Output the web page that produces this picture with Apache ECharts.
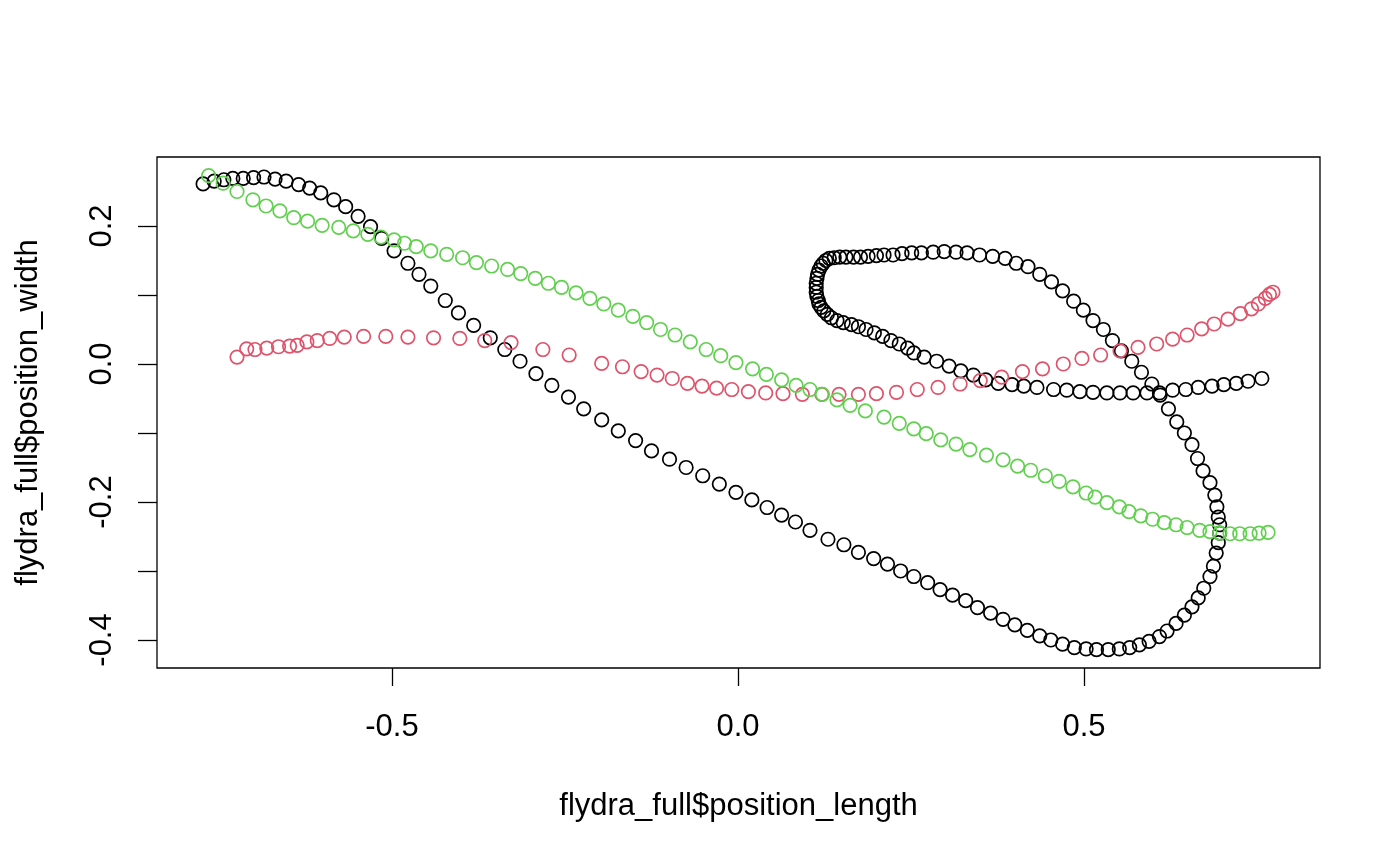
<!DOCTYPE html>
<html>
<head>
<meta charset="utf-8">
<script src="https://cdn.jsdelivr.net/npm/echarts@6/dist/echarts.min.js"></script>
<style>
html,body{margin:0;padding:0;background:#fff;}
#chart{width:1400px;height:865px;}
</style>
</head>
<body>
<div id="chart"></div>
<script>
// Axis tick values
const xTicks = [-0.5, 0.0, 0.5];
const yTicks = [-0.4, -0.3, -0.2, -0.1, 0.0, 0.1, 0.2];
const yLabels = [-0.4, -0.2, 0.0, 0.2];

// Series 1 (black)
const blackX = [-0.773,-0.757,-0.743,-0.730,-0.715,-0.700,-0.685,-0.669,-0.653,-0.635,-0.619,-0.603,-0.584,-0.567,-0.549,-0.531,-0.515,-0.497,-0.477,-0.461,-0.444,-0.423,-0.404,-0.382,-0.358,-0.337,-0.315,-0.292,-0.269,-0.245,-0.223,-0.197,-0.173,-0.148,-0.125,-0.099,-0.075,-0.051,-0.027,-0.003,0.020,0.042,0.063,0.083,0.104,0.130,0.153,0.174,0.196,0.216,0.235,0.254,0.274,0.292,0.310,0.329,0.346,0.365,0.383,0.400,0.418,0.436,0.452,0.469,0.486,0.503,0.518,0.535,0.551,0.566,0.580,0.594,0.609,0.620,0.633,0.645,0.656,0.665,0.673,0.682,0.687,0.691,0.694,0.696,0.696,0.694,0.692,0.689,0.682,0.672,0.664,0.656,0.645,0.634,0.622,0.610,0.598,0.583,0.569,0.554,0.541,0.528,0.513,0.499,0.485,0.469,0.453,0.436,0.419,0.402,0.386,0.368,0.349,0.331,0.315,0.298,0.282,0.265,0.251,0.237,0.224,0.211,0.200,0.188,0.177,0.167,0.156,0.147,0.139,0.132,0.127,0.123,0.120,0.117,0.115,0.114,0.113,0.113,0.113,0.114,0.116,0.117,0.120,0.124,0.129,0.135,0.143,0.152,0.164,0.174,0.185,0.197,0.209,0.221,0.233,0.245,0.254,0.269,0.287,0.305,0.322,0.340,0.358,0.376,0.396,0.413,0.432,0.456,0.475,0.494,0.513,0.533,0.552,0.571,0.591,0.609,0.628,0.647,0.665,0.685,0.702,0.720,0.737,0.757];
const blackY = [0.261,0.265,0.267,0.269,0.269,0.270,0.271,0.268,0.265,0.260,0.255,0.248,0.238,0.228,0.214,0.199,0.182,0.164,0.146,0.130,0.113,0.092,0.074,0.056,0.038,0.021,0.004,-0.014,-0.031,-0.048,-0.065,-0.081,-0.097,-0.111,-0.126,-0.138,-0.150,-0.162,-0.174,-0.186,-0.197,-0.208,-0.219,-0.229,-0.241,-0.254,-0.262,-0.273,-0.282,-0.290,-0.300,-0.308,-0.317,-0.327,-0.335,-0.343,-0.353,-0.361,-0.370,-0.378,-0.386,-0.394,-0.400,-0.406,-0.411,-0.413,-0.414,-0.414,-0.413,-0.411,-0.407,-0.402,-0.395,-0.387,-0.376,-0.364,-0.352,-0.339,-0.325,-0.308,-0.293,-0.274,-0.259,-0.245,-0.233,-0.222,-0.207,-0.190,-0.172,-0.155,-0.137,-0.117,-0.100,-0.084,-0.065,-0.045,-0.029,-0.012,0.004,0.019,0.034,0.050,0.063,0.078,0.091,0.106,0.119,0.130,0.141,0.146,0.153,0.156,0.158,0.161,0.162,0.163,0.162,0.161,0.161,0.160,0.158,0.158,0.157,0.156,0.155,0.155,0.155,0.155,0.154,0.153,0.150,0.146,0.142,0.136,0.130,0.124,0.117,0.111,0.104,0.098,0.092,0.087,0.082,0.077,0.072,0.067,0.063,0.060,0.057,0.054,0.050,0.045,0.040,0.034,0.029,0.023,0.016,0.010,0.004,-0.003,-0.010,-0.016,-0.023,-0.028,-0.030,-0.032,-0.034,-0.037,-0.038,-0.040,-0.041,-0.042,-0.042,-0.042,-0.042,-0.042,-0.038,-0.037,-0.034,-0.032,-0.030,-0.028,-0.025,-0.021];

// Series 2 (red)
const redX = [-0.724,-0.710,-0.698,-0.681,-0.664,-0.648,-0.637,-0.623,-0.608,-0.590,-0.569,-0.541,-0.509,-0.477,-0.440,-0.402,-0.366,-0.328,-0.282,-0.244,-0.197,-0.167,-0.140,-0.117,-0.095,-0.073,-0.052,-0.031,-0.009,0.015,0.040,0.065,0.093,0.121,0.146,0.174,0.200,0.229,0.259,0.289,0.321,0.350,0.381,0.411,0.440,0.470,0.497,0.524,0.552,0.578,0.605,0.628,0.649,0.670,0.688,0.708,0.726,0.742,0.752,0.762,0.768,0.773];
const redY = [0.010,0.022,0.021,0.023,0.025,0.026,0.027,0.032,0.034,0.037,0.039,0.040,0.040,0.039,0.038,0.037,0.034,0.031,0.021,0.013,0.001,-0.004,-0.011,-0.016,-0.021,-0.028,-0.032,-0.035,-0.037,-0.040,-0.042,-0.043,-0.044,-0.044,-0.044,-0.044,-0.043,-0.041,-0.037,-0.034,-0.029,-0.024,-0.019,-0.011,-0.007,0.000,0.008,0.013,0.019,0.024,0.029,0.036,0.042,0.051,0.058,0.065,0.073,0.080,0.087,0.095,0.101,0.104];

// Series 3 (green)
const greenX = [-0.765,-0.744,-0.724,-0.701,-0.682,-0.662,-0.642,-0.622,-0.601,-0.577,-0.556,-0.535,-0.516,-0.497,-0.482,-0.465,-0.444,-0.421,-0.398,-0.378,-0.356,-0.333,-0.314,-0.293,-0.274,-0.255,-0.234,-0.214,-0.194,-0.173,-0.152,-0.132,-0.112,-0.091,-0.069,-0.046,-0.025,-0.003,0.021,0.041,0.063,0.084,0.104,0.122,0.143,0.162,0.184,0.211,0.233,0.254,0.272,0.293,0.315,0.335,0.359,0.383,0.404,0.423,0.444,0.464,0.484,0.503,0.516,0.533,0.551,0.565,0.582,0.599,0.616,0.633,0.649,0.667,0.682,0.696,0.711,0.725,0.740,0.753,0.766];
const greenY = [0.273,0.262,0.250,0.238,0.229,0.222,0.212,0.207,0.201,0.198,0.193,0.188,0.184,0.180,0.175,0.170,0.164,0.159,0.154,0.147,0.142,0.137,0.131,0.124,0.117,0.111,0.103,0.095,0.087,0.078,0.069,0.060,0.050,0.042,0.032,0.021,0.012,0.002,-0.007,-0.015,-0.023,-0.031,-0.037,-0.044,-0.052,-0.060,-0.068,-0.077,-0.086,-0.094,-0.101,-0.110,-0.116,-0.124,-0.132,-0.139,-0.148,-0.154,-0.162,-0.170,-0.178,-0.187,-0.193,-0.201,-0.207,-0.214,-0.220,-0.225,-0.230,-0.233,-0.237,-0.241,-0.243,-0.245,-0.246,-0.246,-0.246,-0.245,-0.244];

const FONT = "'Liberation Sans', Arial, Helvetica, sans-serif";
function pairs(xs, ys){ return xs.map((x,i)=>[x, ys[i]]); }
function mk(name, xs, ys, col){
  return {
    name: name, type: 'scatter', data: pairs(xs, ys),
    symbol: 'circle', symbolSize: 13.5,
    itemStyle: { color: 'rgba(0,0,0,0)', borderColor: col, borderWidth: 1.7, opacity: 1 },
    emphasis: { disabled: true }, silent: true
  };
}

const chart = echarts.init(document.getElementById('chart'), null, {renderer: 'canvas'});
chart.setOption({
  animation: false,
  backgroundColor: '#ffffff',
  grid: { left: 157, right: 80, top: 157, bottom: 197, show: true, borderColor: '#000', borderWidth: 1.3, backgroundColor: 'transparent' },
  xAxis: {
    type: 'value', min: -0.8396, max: 0.8410, position: 'bottom',
    axisLine: { show: false, onZero: false },
    splitLine: { show: false },
    axisTick: { show: true, inside: false, length: 18, customValues: xTicks, lineStyle: { color: '#000', width: 1.3 } },
    axisLabel: { customValues: xTicks, margin: 44, color: '#000', fontSize: 31, fontFamily: FONT, formatter: v => v.toFixed(1) },
    name: 'flydra_full$position_length', nameLocation: 'middle', nameGap: 123,
    nameTextStyle: { color: '#000', fontSize: 31, fontFamily: FONT }
  },
  yAxis: {
    type: 'value', min: -0.4406, max: 0.3, position: 'left',
    axisLine: { show: false, onZero: false },
    splitLine: { show: false },
    axisTick: { show: true, inside: false, length: 19, customValues: yTicks, lineStyle: { color: '#000', width: 1.3 } },
    axisLabel: { customValues: yLabels, rotate: 90, margin: 39, color: '#000', fontSize: 31, fontFamily: FONT, formatter: v => v.toFixed(1) },
    name: 'flydra_full$position_width', nameLocation: 'middle', nameGap: 113,
    nameTextStyle: { color: '#000', fontSize: 31, fontFamily: FONT }
  },
  series: [
    mk('black', blackX, blackY, '#000000'),
    mk('red', redX, redY, '#DF536B'),
    mk('green', greenX, greenY, '#61D04F')
  ]
});
</script>
</body>
</html>
